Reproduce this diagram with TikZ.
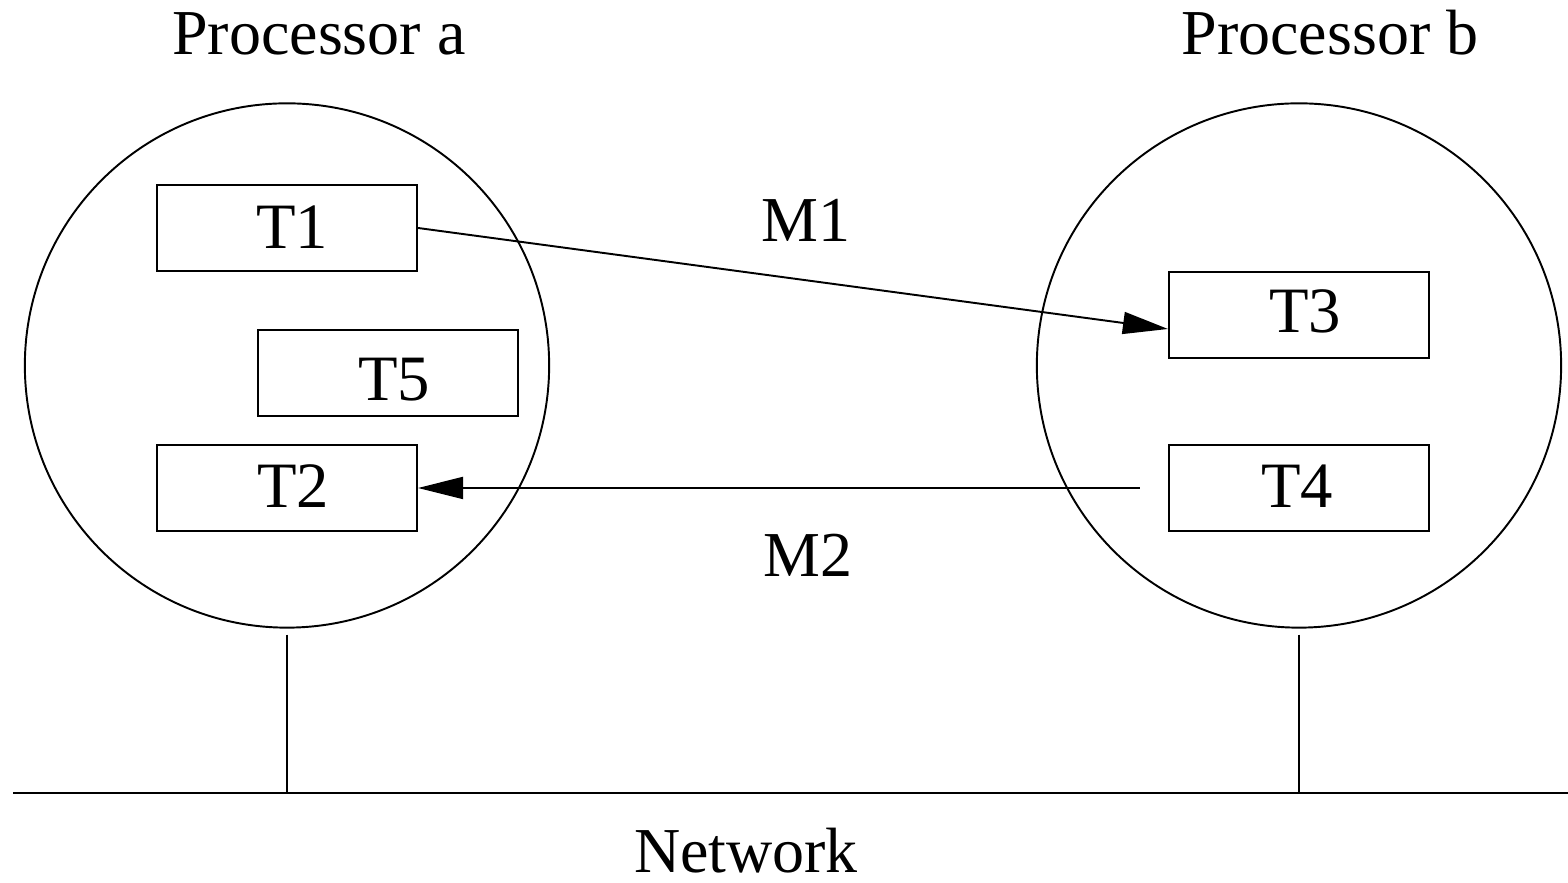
\documentclass[tikz,border=0pt]{standalone}
\usepackage{fontspec}
\setmainfont{Liberation Serif}
\usetikzlibrary{arrows.meta,calc}
\tikzset{
  line/.style={line width=0.55pt, black},
  proc/.style={line, draw, circle, minimum size=5.24cm, inner sep=0pt},
  task/.style={line, draw, rectangle, minimum width=2.6cm, minimum height=0.86cm, inner sep=0pt},
  tasktext/.style={inner sep=0pt, font=\fontsize{18.4pt}{22pt}\selectfont},
  caption/.style={inner sep=0pt, anchor=base, font=\fontsize{18.2pt}{21pt}\selectfont},
  msg/.style={line, -{Triangle[length=0.45cm, width=0.22cm]}},
}
\begin{document}
\begin{tikzpicture}[x=0.01cm, y=-0.01cm]
  \useasboundingbox (0,0) rectangle (1568,883);

  % processors
  \node[proc] (Ca) at (287,365.5) {};
  \node[proc] (Cb) at (1299,365.5) {};
  \node[caption] (labA) at (319,55) {Processor a};
  \node[caption] (labB) at (1330,55) {Processor b};

  % tasks: boxes, then their names set a little off centre
  \node[task] (T1) at (287,228) {};
  \node[task] (T5) at (388,373) {};
  \node[task] (T2) at (287,488) {};
  \node[task] (T3) at (1299,315) {};
  \node[task] (T4) at (1299,488) {};
  \node[tasktext] (T1t) at ($(T1)+(5,-1)$) {T1};
  \node[tasktext] (T5t) at ($(T5)+(6,7)$) {T5};
  \node[tasktext] (T2t) at ($(T2)+(6,-2)$) {T2};
  \node[tasktext] (T3t) at ($(T3)+(6,-4)$) {T3};
  \node[tasktext] (T4t) at ($(T4)+(-2,-2)$) {T4};

  % messages
  \draw[msg] (T1.east) -- ($(T3.west)+(0,14)$);
  \node[caption] (M1) at (806,242) {M1};
  \draw[msg] ($(T4.west)+(-28,0)$) -- (T2.east);
  \node[caption] (M2) at (808,577) {M2};

  % network bus
  \coordinate (netL) at (13,793);
  \coordinate (netR) at (1568,793);
  \coordinate (tapA) at (287,793);
  \coordinate (tapB) at (1299,793);
  \draw[line] (netL) -- (netR);
  \draw[line] ($(Ca.south)+(0,6)$) -- (tapA);
  \draw[line] ($(Cb.south)+(0,6)$) -- (tapB);
  \node[caption] (net) at (746,873) {Network};
\end{tikzpicture}
\end{document}
